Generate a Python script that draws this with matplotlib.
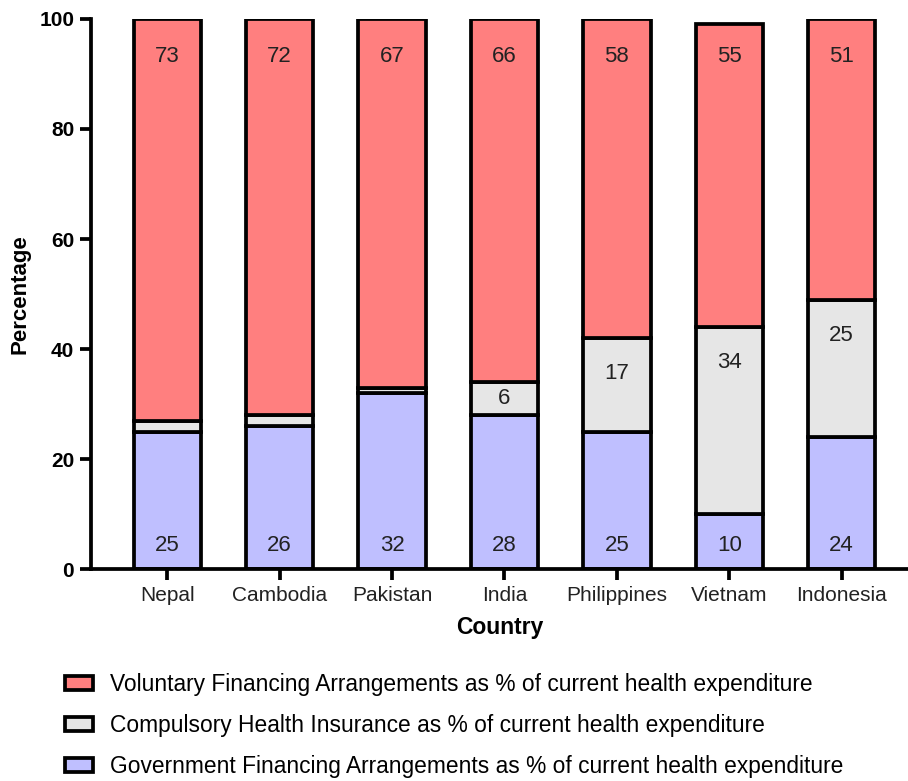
import matplotlib.pyplot as plt
import numpy as np

plt.rcParams['font.family'] = ['Liberation Sans', 'DejaVu Sans']

# data
countries = ['Nepal', 'Cambodia', 'Pakistan', 'India', 'Philippines', 'Vietnam', 'Indonesia']
government = [25, 26, 32, 28, 25, 10, 24]
compulsory = [2, 2, 1, 6, 17, 34, 25]
voluntary = [73, 72, 67, 66, 58, 55, 51]
# compulsory segments too thin to carry a label get none
compulsory_labels = ['', '', '', '6', '17', '34', '25']

col_gov = '#BFBFFF'
col_comp = '#E6E6E6'
col_vol = '#FF7F7F'

fig = plt.figure(figsize=(9.08, 7.81), dpi=100)
ax = fig.add_axes([0.1, 0.2714, 0.9, 0.7043])

x = np.arange(len(countries))
w = 0.6
gov = np.array(government)
comp = np.array(compulsory)
vol = np.array(voluntary)
lw = 2.7

b1 = ax.bar(x, gov, w, color=col_gov, edgecolor='black', linewidth=lw,
            label='Government Financing Arrangements as % of current health expenditure')
b2 = ax.bar(x, comp, w, bottom=gov, color=col_comp, edgecolor='black', linewidth=lw,
            label='Compulsory Health Insurance as % of current health expenditure')
b3 = ax.bar(x, vol, w, bottom=gov + comp, color=col_vol, edgecolor='black', linewidth=lw,
            label='Voluntary Financing Arrangements as % of current health expenditure')

# value labels
for i in range(len(countries)):
    ax.text(x[i], 4.3, str(government[i]), ha='center', va='center', fontsize=16, color='#222222')
    ax.text(x[i], 93.2, str(voluntary[i]), ha='center', va='center', fontsize=16, color='#222222')
    if compulsory_labels[i]:
        top = gov[i] + comp[i]
        y = top - min(6.5, comp[i] / 2)
        ax.text(x[i], y, compulsory_labels[i], ha='center', va='center', fontsize=16, color='#222222')

ax.set_xlim(-0.68, 6.59)
ax.set_ylim(0, 100)
ax.set_yticks([0, 20, 40, 60, 80, 100])
ax.set_xticks(x)
ax.set_xticklabels(countries, fontsize=15, color='#222222')
for lab in ax.get_yticklabels():
    lab.set_fontweight('bold')
    lab.set_fontsize(15)

for s in ['top', 'right']:
    ax.spines[s].set_visible(False)
for s in ['left', 'bottom']:
    ax.spines[s].set_linewidth(2.7)
ax.tick_params(axis='both', width=2.7, length=8, pad=4)

ax.set_ylabel('Percentage', fontsize=16, fontweight='bold', labelpad=6)
ax.set_xlabel('Country', fontsize=16.5, fontweight='bold', labelpad=8)

handles = [b3, b2, b1]
leg = fig.legend(handles=handles, labels=[h.get_label() for h in handles],
                 loc='upper left', bbox_to_anchor=(0.0716, 0.138), frameon=False,
                 fontsize=16.4, handlelength=1.23, handleheight=0.58,
                 labelspacing=0.78, handletextpad=0.75, borderpad=0, borderaxespad=0)

plt.savefig('out.png', dpi=100)
